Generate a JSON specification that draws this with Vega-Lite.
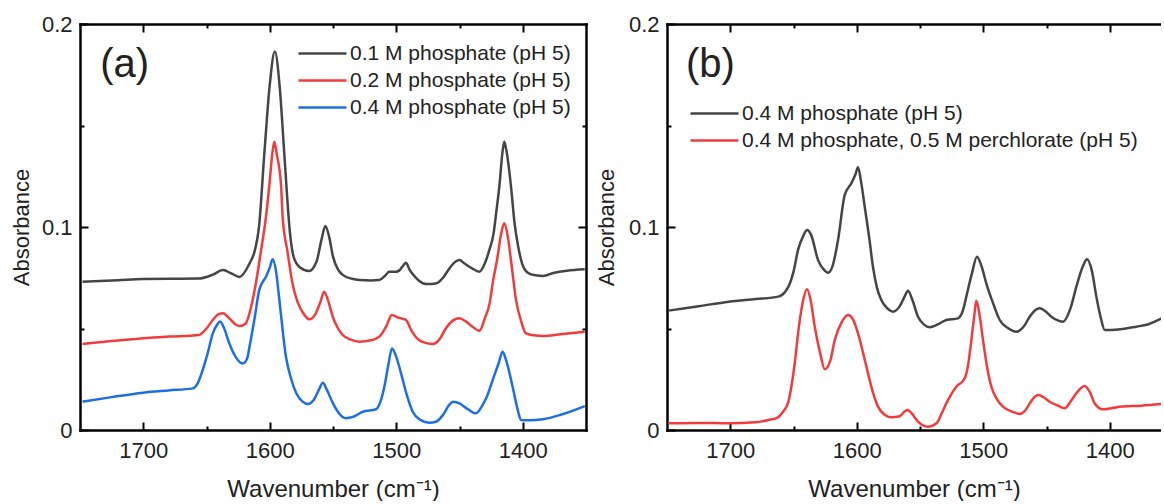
{
  "$schema": "https://vega.github.io/schema/vega-lite/v6.json",
  "padding": {"left": 10, "top": 13, "right": 0, "bottom": 0},
  "background": "white",
  "config": {
    "font": "Liberation Sans",
    "view": {"stroke": null},
    "axis": {"grid": false, "domainColor": "#000000", "domainWidth": 2.5, "domainCap": "square", "tickColor": "#000000", "tickWidth": 2, "labelFont": "Liberation Sans", "labelFontSize": 22, "labelColor": "#222222", "titleFont": "Liberation Sans", "titleFontWeight": "normal", "titleColor": "#222222", "labelFlush": false, "labelOverlap": false},
    "legend": {"labelFont": "Liberation Sans", "labelFontSize": 21, "labelColor": "#222222", "padding": 0, "labelLimit": 600}
  },
  "datasets": {
    "a": [
      {"s": "0.1 M phosphate (pH 5)", "wn": 1748, "A": 0.073},
      {"s": "0.1 M phosphate (pH 5)", "wn": 1720, "A": 0.0738},
      {"s": "0.1 M phosphate (pH 5)", "wn": 1700, "A": 0.0744},
      {"s": "0.1 M phosphate (pH 5)", "wn": 1680, "A": 0.0745},
      {"s": "0.1 M phosphate (pH 5)", "wn": 1656, "A": 0.0746},
      {"s": "0.1 M phosphate (pH 5)", "wn": 1645, "A": 0.0765},
      {"s": "0.1 M phosphate (pH 5)", "wn": 1637, "A": 0.0788},
      {"s": "0.1 M phosphate (pH 5)", "wn": 1630, "A": 0.077},
      {"s": "0.1 M phosphate (pH 5)", "wn": 1624, "A": 0.0754},
      {"s": "0.1 M phosphate (pH 5)", "wn": 1616, "A": 0.082},
      {"s": "0.1 M phosphate (pH 5)", "wn": 1612, "A": 0.088},
      {"s": "0.1 M phosphate (pH 5)", "wn": 1608.5, "A": 0.1},
      {"s": "0.1 M phosphate (pH 5)", "wn": 1604.3, "A": 0.136},
      {"s": "0.1 M phosphate (pH 5)", "wn": 1600, "A": 0.17},
      {"s": "0.1 M phosphate (pH 5)", "wn": 1596, "A": 0.1864},
      {"s": "0.1 M phosphate (pH 5)", "wn": 1592, "A": 0.168},
      {"s": "0.1 M phosphate (pH 5)", "wn": 1588.5, "A": 0.136},
      {"s": "0.1 M phosphate (pH 5)", "wn": 1584, "A": 0.097},
      {"s": "0.1 M phosphate (pH 5)", "wn": 1581, "A": 0.085},
      {"s": "0.1 M phosphate (pH 5)", "wn": 1576, "A": 0.08},
      {"s": "0.1 M phosphate (pH 5)", "wn": 1569, "A": 0.0783},
      {"s": "0.1 M phosphate (pH 5)", "wn": 1563, "A": 0.083},
      {"s": "0.1 M phosphate (pH 5)", "wn": 1559, "A": 0.094},
      {"s": "0.1 M phosphate (pH 5)", "wn": 1556, "A": 0.1005},
      {"s": "0.1 M phosphate (pH 5)", "wn": 1553, "A": 0.095},
      {"s": "0.1 M phosphate (pH 5)", "wn": 1550, "A": 0.0854},
      {"s": "0.1 M phosphate (pH 5)", "wn": 1546, "A": 0.079},
      {"s": "0.1 M phosphate (pH 5)", "wn": 1542, "A": 0.0763},
      {"s": "0.1 M phosphate (pH 5)", "wn": 1535, "A": 0.0745},
      {"s": "0.1 M phosphate (pH 5)", "wn": 1529, "A": 0.0739},
      {"s": "0.1 M phosphate (pH 5)", "wn": 1520, "A": 0.0737},
      {"s": "0.1 M phosphate (pH 5)", "wn": 1513.6, "A": 0.0739},
      {"s": "0.1 M phosphate (pH 5)", "wn": 1508, "A": 0.0765},
      {"s": "0.1 M phosphate (pH 5)", "wn": 1505.7, "A": 0.078},
      {"s": "0.1 M phosphate (pH 5)", "wn": 1500, "A": 0.078},
      {"s": "0.1 M phosphate (pH 5)", "wn": 1497.8, "A": 0.0785},
      {"s": "0.1 M phosphate (pH 5)", "wn": 1494.5, "A": 0.081},
      {"s": "0.1 M phosphate (pH 5)", "wn": 1492.3, "A": 0.0824},
      {"s": "0.1 M phosphate (pH 5)", "wn": 1489.5, "A": 0.079},
      {"s": "0.1 M phosphate (pH 5)", "wn": 1487, "A": 0.0768},
      {"s": "0.1 M phosphate (pH 5)", "wn": 1482, "A": 0.0735},
      {"s": "0.1 M phosphate (pH 5)", "wn": 1476.5, "A": 0.0719},
      {"s": "0.1 M phosphate (pH 5)", "wn": 1468.6, "A": 0.0722},
      {"s": "0.1 M phosphate (pH 5)", "wn": 1463, "A": 0.075},
      {"s": "0.1 M phosphate (pH 5)", "wn": 1458, "A": 0.0796},
      {"s": "0.1 M phosphate (pH 5)", "wn": 1453, "A": 0.083},
      {"s": "0.1 M phosphate (pH 5)", "wn": 1450, "A": 0.0837},
      {"s": "0.1 M phosphate (pH 5)", "wn": 1446, "A": 0.082},
      {"s": "0.1 M phosphate (pH 5)", "wn": 1440, "A": 0.0796},
      {"s": "0.1 M phosphate (pH 5)", "wn": 1434.3, "A": 0.078},
      {"s": "0.1 M phosphate (pH 5)", "wn": 1430, "A": 0.082},
      {"s": "0.1 M phosphate (pH 5)", "wn": 1426.4, "A": 0.0887},
      {"s": "0.1 M phosphate (pH 5)", "wn": 1423, "A": 0.097},
      {"s": "0.1 M phosphate (pH 5)", "wn": 1421, "A": 0.107},
      {"s": "0.1 M phosphate (pH 5)", "wn": 1418.5, "A": 0.12},
      {"s": "0.1 M phosphate (pH 5)", "wn": 1416, "A": 0.137},
      {"s": "0.1 M phosphate (pH 5)", "wn": 1414.6, "A": 0.142},
      {"s": "0.1 M phosphate (pH 5)", "wn": 1413, "A": 0.138},
      {"s": "0.1 M phosphate (pH 5)", "wn": 1409.3, "A": 0.12},
      {"s": "0.1 M phosphate (pH 5)", "wn": 1406.5, "A": 0.102},
      {"s": "0.1 M phosphate (pH 5)", "wn": 1403.5, "A": 0.09},
      {"s": "0.1 M phosphate (pH 5)", "wn": 1400.5, "A": 0.082},
      {"s": "0.1 M phosphate (pH 5)", "wn": 1396, "A": 0.0775},
      {"s": "0.1 M phosphate (pH 5)", "wn": 1390, "A": 0.0762},
      {"s": "0.1 M phosphate (pH 5)", "wn": 1384, "A": 0.0759},
      {"s": "0.1 M phosphate (pH 5)", "wn": 1375, "A": 0.0775},
      {"s": "0.1 M phosphate (pH 5)", "wn": 1365, "A": 0.0785},
      {"s": "0.1 M phosphate (pH 5)", "wn": 1351, "A": 0.0792},

      {"s": "0.2 M phosphate (pH 5)", "wn": 1748, "A": 0.0424},
      {"s": "0.2 M phosphate (pH 5)", "wn": 1725, "A": 0.0438},
      {"s": "0.2 M phosphate (pH 5)", "wn": 1700, "A": 0.0452},
      {"s": "0.2 M phosphate (pH 5)", "wn": 1680, "A": 0.046},
      {"s": "0.2 M phosphate (pH 5)", "wn": 1656, "A": 0.0468},
      {"s": "0.2 M phosphate (pH 5)", "wn": 1650, "A": 0.05},
      {"s": "0.2 M phosphate (pH 5)", "wn": 1645, "A": 0.0542},
      {"s": "0.2 M phosphate (pH 5)", "wn": 1640, "A": 0.0572},
      {"s": "0.2 M phosphate (pH 5)", "wn": 1637, "A": 0.0575},
      {"s": "0.2 M phosphate (pH 5)", "wn": 1632, "A": 0.055},
      {"s": "0.2 M phosphate (pH 5)", "wn": 1627, "A": 0.052},
      {"s": "0.2 M phosphate (pH 5)", "wn": 1624, "A": 0.0512},
      {"s": "0.2 M phosphate (pH 5)", "wn": 1619, "A": 0.0525},
      {"s": "0.2 M phosphate (pH 5)", "wn": 1615, "A": 0.06},
      {"s": "0.2 M phosphate (pH 5)", "wn": 1611, "A": 0.0722},
      {"s": "0.2 M phosphate (pH 5)", "wn": 1607, "A": 0.088},
      {"s": "0.2 M phosphate (pH 5)", "wn": 1603, "A": 0.105},
      {"s": "0.2 M phosphate (pH 5)", "wn": 1600.4, "A": 0.12},
      {"s": "0.2 M phosphate (pH 5)", "wn": 1598, "A": 0.136},
      {"s": "0.2 M phosphate (pH 5)", "wn": 1596.4, "A": 0.142},
      {"s": "0.2 M phosphate (pH 5)", "wn": 1594.5, "A": 0.136},
      {"s": "0.2 M phosphate (pH 5)", "wn": 1591, "A": 0.12},
      {"s": "0.2 M phosphate (pH 5)", "wn": 1589.8, "A": 0.105},
      {"s": "0.2 M phosphate (pH 5)", "wn": 1586, "A": 0.088},
      {"s": "0.2 M phosphate (pH 5)", "wn": 1582, "A": 0.0722},
      {"s": "0.2 M phosphate (pH 5)", "wn": 1578, "A": 0.063},
      {"s": "0.2 M phosphate (pH 5)", "wn": 1574, "A": 0.058},
      {"s": "0.2 M phosphate (pH 5)", "wn": 1568.7, "A": 0.0545},
      {"s": "0.2 M phosphate (pH 5)", "wn": 1564, "A": 0.057},
      {"s": "0.2 M phosphate (pH 5)", "wn": 1560, "A": 0.063},
      {"s": "0.2 M phosphate (pH 5)", "wn": 1557, "A": 0.0681},
      {"s": "0.2 M phosphate (pH 5)", "wn": 1554, "A": 0.064},
      {"s": "0.2 M phosphate (pH 5)", "wn": 1550.2, "A": 0.0558},
      {"s": "0.2 M phosphate (pH 5)", "wn": 1546, "A": 0.05},
      {"s": "0.2 M phosphate (pH 5)", "wn": 1542.3, "A": 0.0468},
      {"s": "0.2 M phosphate (pH 5)", "wn": 1536, "A": 0.0445},
      {"s": "0.2 M phosphate (pH 5)", "wn": 1529, "A": 0.0435},
      {"s": "0.2 M phosphate (pH 5)", "wn": 1520, "A": 0.0442},
      {"s": "0.2 M phosphate (pH 5)", "wn": 1513.4, "A": 0.046},
      {"s": "0.2 M phosphate (pH 5)", "wn": 1508, "A": 0.051},
      {"s": "0.2 M phosphate (pH 5)", "wn": 1503.4, "A": 0.0567},
      {"s": "0.2 M phosphate (pH 5)", "wn": 1499, "A": 0.0555},
      {"s": "0.2 M phosphate (pH 5)", "wn": 1495, "A": 0.0548},
      {"s": "0.2 M phosphate (pH 5)", "wn": 1492.3, "A": 0.0542},
      {"s": "0.2 M phosphate (pH 5)", "wn": 1488, "A": 0.049},
      {"s": "0.2 M phosphate (pH 5)", "wn": 1482, "A": 0.0443},
      {"s": "0.2 M phosphate (pH 5)", "wn": 1476, "A": 0.0428},
      {"s": "0.2 M phosphate (pH 5)", "wn": 1471, "A": 0.0424},
      {"s": "0.2 M phosphate (pH 5)", "wn": 1466, "A": 0.0445},
      {"s": "0.2 M phosphate (pH 5)", "wn": 1460.7, "A": 0.0501},
      {"s": "0.2 M phosphate (pH 5)", "wn": 1455, "A": 0.054},
      {"s": "0.2 M phosphate (pH 5)", "wn": 1450, "A": 0.055},
      {"s": "0.2 M phosphate (pH 5)", "wn": 1445, "A": 0.0535},
      {"s": "0.2 M phosphate (pH 5)", "wn": 1440, "A": 0.051},
      {"s": "0.2 M phosphate (pH 5)", "wn": 1434.3, "A": 0.0489},
      {"s": "0.2 M phosphate (pH 5)", "wn": 1430, "A": 0.055},
      {"s": "0.2 M phosphate (pH 5)", "wn": 1426, "A": 0.063},
      {"s": "0.2 M phosphate (pH 5)", "wn": 1423.8, "A": 0.0722},
      {"s": "0.2 M phosphate (pH 5)", "wn": 1420, "A": 0.085},
      {"s": "0.2 M phosphate (pH 5)", "wn": 1417, "A": 0.097},
      {"s": "0.2 M phosphate (pH 5)", "wn": 1414.6, "A": 0.1018},
      {"s": "0.2 M phosphate (pH 5)", "wn": 1412, "A": 0.096},
      {"s": "0.2 M phosphate (pH 5)", "wn": 1409, "A": 0.082},
      {"s": "0.2 M phosphate (pH 5)", "wn": 1405.3, "A": 0.064},
      {"s": "0.2 M phosphate (pH 5)", "wn": 1401, "A": 0.053},
      {"s": "0.2 M phosphate (pH 5)", "wn": 1397.4, "A": 0.0476},
      {"s": "0.2 M phosphate (pH 5)", "wn": 1390, "A": 0.0465},
      {"s": "0.2 M phosphate (pH 5)", "wn": 1384, "A": 0.0463},
      {"s": "0.2 M phosphate (pH 5)", "wn": 1370, "A": 0.0472},
      {"s": "0.2 M phosphate (pH 5)", "wn": 1351, "A": 0.0484},

      {"s": "0.4 M phosphate (pH 5)", "wn": 1748, "A": 0.0139},
      {"s": "0.4 M phosphate (pH 5)", "wn": 1725, "A": 0.0162},
      {"s": "0.4 M phosphate (pH 5)", "wn": 1700, "A": 0.0184},
      {"s": "0.4 M phosphate (pH 5)", "wn": 1680, "A": 0.0195},
      {"s": "0.4 M phosphate (pH 5)", "wn": 1661, "A": 0.0205},
      {"s": "0.4 M phosphate (pH 5)", "wn": 1657, "A": 0.023},
      {"s": "0.4 M phosphate (pH 5)", "wn": 1653, "A": 0.0296},
      {"s": "0.4 M phosphate (pH 5)", "wn": 1649, "A": 0.038},
      {"s": "0.4 M phosphate (pH 5)", "wn": 1645, "A": 0.0476},
      {"s": "0.4 M phosphate (pH 5)", "wn": 1641.5, "A": 0.052},
      {"s": "0.4 M phosphate (pH 5)", "wn": 1639.3, "A": 0.0534},
      {"s": "0.4 M phosphate (pH 5)", "wn": 1636, "A": 0.05},
      {"s": "0.4 M phosphate (pH 5)", "wn": 1632, "A": 0.0427},
      {"s": "0.4 M phosphate (pH 5)", "wn": 1627, "A": 0.036},
      {"s": "0.4 M phosphate (pH 5)", "wn": 1621.4, "A": 0.0328},
      {"s": "0.4 M phosphate (pH 5)", "wn": 1618, "A": 0.035},
      {"s": "0.4 M phosphate (pH 5)", "wn": 1616, "A": 0.041},
      {"s": "0.4 M phosphate (pH 5)", "wn": 1612, "A": 0.055},
      {"s": "0.4 M phosphate (pH 5)", "wn": 1608.3, "A": 0.069},
      {"s": "0.4 M phosphate (pH 5)", "wn": 1603, "A": 0.0755},
      {"s": "0.4 M phosphate (pH 5)", "wn": 1600, "A": 0.08},
      {"s": "0.4 M phosphate (pH 5)", "wn": 1597.7, "A": 0.0841},
      {"s": "0.4 M phosphate (pH 5)", "wn": 1595, "A": 0.078},
      {"s": "0.4 M phosphate (pH 5)", "wn": 1592.4, "A": 0.064},
      {"s": "0.4 M phosphate (pH 5)", "wn": 1587.2, "A": 0.0361},
      {"s": "0.4 M phosphate (pH 5)", "wn": 1583, "A": 0.025},
      {"s": "0.4 M phosphate (pH 5)", "wn": 1579, "A": 0.0181},
      {"s": "0.4 M phosphate (pH 5)", "wn": 1574, "A": 0.014},
      {"s": "0.4 M phosphate (pH 5)", "wn": 1570, "A": 0.0128},
      {"s": "0.4 M phosphate (pH 5)", "wn": 1565, "A": 0.015},
      {"s": "0.4 M phosphate (pH 5)", "wn": 1561, "A": 0.02},
      {"s": "0.4 M phosphate (pH 5)", "wn": 1558, "A": 0.0233},
      {"s": "0.4 M phosphate (pH 5)", "wn": 1555, "A": 0.02},
      {"s": "0.4 M phosphate (pH 5)", "wn": 1550, "A": 0.0131},
      {"s": "0.4 M phosphate (pH 5)", "wn": 1545, "A": 0.008},
      {"s": "0.4 M phosphate (pH 5)", "wn": 1540, "A": 0.0058},
      {"s": "0.4 M phosphate (pH 5)", "wn": 1534, "A": 0.0065},
      {"s": "0.4 M phosphate (pH 5)", "wn": 1526.5, "A": 0.009},
      {"s": "0.4 M phosphate (pH 5)", "wn": 1516, "A": 0.0102},
      {"s": "0.4 M phosphate (pH 5)", "wn": 1512.5, "A": 0.014},
      {"s": "0.4 M phosphate (pH 5)", "wn": 1509.4, "A": 0.0213},
      {"s": "0.4 M phosphate (pH 5)", "wn": 1506, "A": 0.033},
      {"s": "0.4 M phosphate (pH 5)", "wn": 1503.4, "A": 0.0402},
      {"s": "0.4 M phosphate (pH 5)", "wn": 1500, "A": 0.036},
      {"s": "0.4 M phosphate (pH 5)", "wn": 1496.2, "A": 0.0279},
      {"s": "0.4 M phosphate (pH 5)", "wn": 1492, "A": 0.018},
      {"s": "0.4 M phosphate (pH 5)", "wn": 1487, "A": 0.009},
      {"s": "0.4 M phosphate (pH 5)", "wn": 1481, "A": 0.005},
      {"s": "0.4 M phosphate (pH 5)", "wn": 1474, "A": 0.0036},
      {"s": "0.4 M phosphate (pH 5)", "wn": 1468.6, "A": 0.0041},
      {"s": "0.4 M phosphate (pH 5)", "wn": 1463, "A": 0.0075},
      {"s": "0.4 M phosphate (pH 5)", "wn": 1458, "A": 0.0125},
      {"s": "0.4 M phosphate (pH 5)", "wn": 1455, "A": 0.0139},
      {"s": "0.4 M phosphate (pH 5)", "wn": 1450, "A": 0.0131},
      {"s": "0.4 M phosphate (pH 5)", "wn": 1444, "A": 0.0105},
      {"s": "0.4 M phosphate (pH 5)", "wn": 1437, "A": 0.0082},
      {"s": "0.4 M phosphate (pH 5)", "wn": 1432, "A": 0.012},
      {"s": "0.4 M phosphate (pH 5)", "wn": 1428, "A": 0.017},
      {"s": "0.4 M phosphate (pH 5)", "wn": 1423.8, "A": 0.0246},
      {"s": "0.4 M phosphate (pH 5)", "wn": 1419, "A": 0.033},
      {"s": "0.4 M phosphate (pH 5)", "wn": 1416, "A": 0.0386},
      {"s": "0.4 M phosphate (pH 5)", "wn": 1413, "A": 0.034},
      {"s": "0.4 M phosphate (pH 5)", "wn": 1408, "A": 0.0213},
      {"s": "0.4 M phosphate (pH 5)", "wn": 1404, "A": 0.01},
      {"s": "0.4 M phosphate (pH 5)", "wn": 1401.4, "A": 0.0049},
      {"s": "0.4 M phosphate (pH 5)", "wn": 1395, "A": 0.0048},
      {"s": "0.4 M phosphate (pH 5)", "wn": 1384, "A": 0.0053},
      {"s": "0.4 M phosphate (pH 5)", "wn": 1370, "A": 0.0075},
      {"s": "0.4 M phosphate (pH 5)", "wn": 1351, "A": 0.0118}
    ],
    "b": [
      {"s": "0.4 M phosphate (pH 5)", "wn": 1749, "A": 0.0588},
      {"s": "0.4 M phosphate (pH 5)", "wn": 1725, "A": 0.061},
      {"s": "0.4 M phosphate (pH 5)", "wn": 1701, "A": 0.0632},
      {"s": "0.4 M phosphate (pH 5)", "wn": 1680, "A": 0.0645},
      {"s": "0.4 M phosphate (pH 5)", "wn": 1662, "A": 0.0657},
      {"s": "0.4 M phosphate (pH 5)", "wn": 1654, "A": 0.0706},
      {"s": "0.4 M phosphate (pH 5)", "wn": 1650, "A": 0.078},
      {"s": "0.4 M phosphate (pH 5)", "wn": 1646.4, "A": 0.0887},
      {"s": "0.4 M phosphate (pH 5)", "wn": 1642, "A": 0.096},
      {"s": "0.4 M phosphate (pH 5)", "wn": 1639.3, "A": 0.0985},
      {"s": "0.4 M phosphate (pH 5)", "wn": 1636, "A": 0.096},
      {"s": "0.4 M phosphate (pH 5)", "wn": 1630.6, "A": 0.0837},
      {"s": "0.4 M phosphate (pH 5)", "wn": 1626, "A": 0.079},
      {"s": "0.4 M phosphate (pH 5)", "wn": 1622.7, "A": 0.0775},
      {"s": "0.4 M phosphate (pH 5)", "wn": 1619, "A": 0.081},
      {"s": "0.4 M phosphate (pH 5)", "wn": 1614.8, "A": 0.0936},
      {"s": "0.4 M phosphate (pH 5)", "wn": 1609.5, "A": 0.1158},
      {"s": "0.4 M phosphate (pH 5)", "wn": 1604.3, "A": 0.1215},
      {"s": "0.4 M phosphate (pH 5)", "wn": 1601, "A": 0.126},
      {"s": "0.4 M phosphate (pH 5)", "wn": 1599, "A": 0.1294},
      {"s": "0.4 M phosphate (pH 5)", "wn": 1596.5, "A": 0.122},
      {"s": "0.4 M phosphate (pH 5)", "wn": 1593.7, "A": 0.11},
      {"s": "0.4 M phosphate (pH 5)", "wn": 1590, "A": 0.094},
      {"s": "0.4 M phosphate (pH 5)", "wn": 1587.2, "A": 0.0804},
      {"s": "0.4 M phosphate (pH 5)", "wn": 1584, "A": 0.07},
      {"s": "0.4 M phosphate (pH 5)", "wn": 1580.6, "A": 0.064},
      {"s": "0.4 M phosphate (pH 5)", "wn": 1576, "A": 0.06},
      {"s": "0.4 M phosphate (pH 5)", "wn": 1571.3, "A": 0.0583},
      {"s": "0.4 M phosphate (pH 5)", "wn": 1566, "A": 0.061},
      {"s": "0.4 M phosphate (pH 5)", "wn": 1562, "A": 0.066},
      {"s": "0.4 M phosphate (pH 5)", "wn": 1559.5, "A": 0.0686},
      {"s": "0.4 M phosphate (pH 5)", "wn": 1556, "A": 0.064},
      {"s": "0.4 M phosphate (pH 5)", "wn": 1551.6, "A": 0.0558},
      {"s": "0.4 M phosphate (pH 5)", "wn": 1547, "A": 0.052},
      {"s": "0.4 M phosphate (pH 5)", "wn": 1542.3, "A": 0.0506},
      {"s": "0.4 M phosphate (pH 5)", "wn": 1536, "A": 0.052},
      {"s": "0.4 M phosphate (pH 5)", "wn": 1529.2, "A": 0.0542},
      {"s": "0.4 M phosphate (pH 5)", "wn": 1520, "A": 0.055},
      {"s": "0.4 M phosphate (pH 5)", "wn": 1516, "A": 0.059},
      {"s": "0.4 M phosphate (pH 5)", "wn": 1513.4, "A": 0.0657},
      {"s": "0.4 M phosphate (pH 5)", "wn": 1509, "A": 0.077},
      {"s": "0.4 M phosphate (pH 5)", "wn": 1505, "A": 0.0854},
      {"s": "0.4 M phosphate (pH 5)", "wn": 1501, "A": 0.08},
      {"s": "0.4 M phosphate (pH 5)", "wn": 1497.6, "A": 0.0722},
      {"s": "0.4 M phosphate (pH 5)", "wn": 1492, "A": 0.062},
      {"s": "0.4 M phosphate (pH 5)", "wn": 1487, "A": 0.0542},
      {"s": "0.4 M phosphate (pH 5)", "wn": 1480, "A": 0.05},
      {"s": "0.4 M phosphate (pH 5)", "wn": 1473.9, "A": 0.0484},
      {"s": "0.4 M phosphate (pH 5)", "wn": 1468, "A": 0.051},
      {"s": "0.4 M phosphate (pH 5)", "wn": 1463.3, "A": 0.0558},
      {"s": "0.4 M phosphate (pH 5)", "wn": 1459, "A": 0.059},
      {"s": "0.4 M phosphate (pH 5)", "wn": 1455.4, "A": 0.06},
      {"s": "0.4 M phosphate (pH 5)", "wn": 1450, "A": 0.058},
      {"s": "0.4 M phosphate (pH 5)", "wn": 1446.2, "A": 0.0558},
      {"s": "0.4 M phosphate (pH 5)", "wn": 1441, "A": 0.054},
      {"s": "0.4 M phosphate (pH 5)", "wn": 1437, "A": 0.0533},
      {"s": "0.4 M phosphate (pH 5)", "wn": 1431, "A": 0.06},
      {"s": "0.4 M phosphate (pH 5)", "wn": 1426.4, "A": 0.0706},
      {"s": "0.4 M phosphate (pH 5)", "wn": 1421, "A": 0.081},
      {"s": "0.4 M phosphate (pH 5)", "wn": 1418, "A": 0.0841},
      {"s": "0.4 M phosphate (pH 5)", "wn": 1414, "A": 0.078},
      {"s": "0.4 M phosphate (pH 5)", "wn": 1410.6, "A": 0.0657},
      {"s": "0.4 M phosphate (pH 5)", "wn": 1407, "A": 0.055},
      {"s": "0.4 M phosphate (pH 5)", "wn": 1404, "A": 0.0493},
      {"s": "0.4 M phosphate (pH 5)", "wn": 1398, "A": 0.0493},
      {"s": "0.4 M phosphate (pH 5)", "wn": 1392, "A": 0.0496},
      {"s": "0.4 M phosphate (pH 5)", "wn": 1379, "A": 0.0509},
      {"s": "0.4 M phosphate (pH 5)", "wn": 1370, "A": 0.052},
      {"s": "0.4 M phosphate (pH 5)", "wn": 1359, "A": 0.055},

      {"s": "0.4 M phosphate, 0.5 M perchlorate (pH 5)", "wn": 1749, "A": 0.0033},
      {"s": "0.4 M phosphate, 0.5 M perchlorate (pH 5)", "wn": 1725, "A": 0.0035},
      {"s": "0.4 M phosphate, 0.5 M perchlorate (pH 5)", "wn": 1701, "A": 0.0033},
      {"s": "0.4 M phosphate, 0.5 M perchlorate (pH 5)", "wn": 1680, "A": 0.0038},
      {"s": "0.4 M phosphate, 0.5 M perchlorate (pH 5)", "wn": 1670, "A": 0.0049},
      {"s": "0.4 M phosphate, 0.5 M perchlorate (pH 5)", "wn": 1663, "A": 0.006},
      {"s": "0.4 M phosphate, 0.5 M perchlorate (pH 5)", "wn": 1658.3, "A": 0.009},
      {"s": "0.4 M phosphate, 0.5 M perchlorate (pH 5)", "wn": 1654, "A": 0.014},
      {"s": "0.4 M phosphate, 0.5 M perchlorate (pH 5)", "wn": 1651.7, "A": 0.0213},
      {"s": "0.4 M phosphate, 0.5 M perchlorate (pH 5)", "wn": 1649, "A": 0.033},
      {"s": "0.4 M phosphate, 0.5 M perchlorate (pH 5)", "wn": 1646.4, "A": 0.0476},
      {"s": "0.4 M phosphate, 0.5 M perchlorate (pH 5)", "wn": 1643, "A": 0.062},
      {"s": "0.4 M phosphate, 0.5 M perchlorate (pH 5)", "wn": 1639.3, "A": 0.0693},
      {"s": "0.4 M phosphate, 0.5 M perchlorate (pH 5)", "wn": 1636.5, "A": 0.064},
      {"s": "0.4 M phosphate, 0.5 M perchlorate (pH 5)", "wn": 1633.2, "A": 0.0509},
      {"s": "0.4 M phosphate, 0.5 M perchlorate (pH 5)", "wn": 1629, "A": 0.038},
      {"s": "0.4 M phosphate, 0.5 M perchlorate (pH 5)", "wn": 1625.3, "A": 0.0299},
      {"s": "0.4 M phosphate, 0.5 M perchlorate (pH 5)", "wn": 1621, "A": 0.034},
      {"s": "0.4 M phosphate, 0.5 M perchlorate (pH 5)", "wn": 1617.4, "A": 0.0443},
      {"s": "0.4 M phosphate, 0.5 M perchlorate (pH 5)", "wn": 1612, "A": 0.053},
      {"s": "0.4 M phosphate, 0.5 M perchlorate (pH 5)", "wn": 1606.9, "A": 0.0567},
      {"s": "0.4 M phosphate, 0.5 M perchlorate (pH 5)", "wn": 1603, "A": 0.0545},
      {"s": "0.4 M phosphate, 0.5 M perchlorate (pH 5)", "wn": 1599, "A": 0.0476},
      {"s": "0.4 M phosphate, 0.5 M perchlorate (pH 5)", "wn": 1595, "A": 0.038},
      {"s": "0.4 M phosphate, 0.5 M perchlorate (pH 5)", "wn": 1591.1, "A": 0.0279},
      {"s": "0.4 M phosphate, 0.5 M perchlorate (pH 5)", "wn": 1587, "A": 0.018},
      {"s": "0.4 M phosphate, 0.5 M perchlorate (pH 5)", "wn": 1583.2, "A": 0.0115},
      {"s": "0.4 M phosphate, 0.5 M perchlorate (pH 5)", "wn": 1578, "A": 0.0075},
      {"s": "0.4 M phosphate, 0.5 M perchlorate (pH 5)", "wn": 1572.7, "A": 0.0063},
      {"s": "0.4 M phosphate, 0.5 M perchlorate (pH 5)", "wn": 1566, "A": 0.0068},
      {"s": "0.4 M phosphate, 0.5 M perchlorate (pH 5)", "wn": 1562, "A": 0.0092},
      {"s": "0.4 M phosphate, 0.5 M perchlorate (pH 5)", "wn": 1560, "A": 0.0099},
      {"s": "0.4 M phosphate, 0.5 M perchlorate (pH 5)", "wn": 1557, "A": 0.0085},
      {"s": "0.4 M phosphate, 0.5 M perchlorate (pH 5)", "wn": 1551.6, "A": 0.0041},
      {"s": "0.4 M phosphate, 0.5 M perchlorate (pH 5)", "wn": 1543.7, "A": 0.0016},
      {"s": "0.4 M phosphate, 0.5 M perchlorate (pH 5)", "wn": 1537, "A": 0.0033},
      {"s": "0.4 M phosphate, 0.5 M perchlorate (pH 5)", "wn": 1533, "A": 0.008},
      {"s": "0.4 M phosphate, 0.5 M perchlorate (pH 5)", "wn": 1529.2, "A": 0.0131},
      {"s": "0.4 M phosphate, 0.5 M perchlorate (pH 5)", "wn": 1521.3, "A": 0.0213},
      {"s": "0.4 M phosphate, 0.5 M perchlorate (pH 5)", "wn": 1514.7, "A": 0.0254},
      {"s": "0.4 M phosphate, 0.5 M perchlorate (pH 5)", "wn": 1512, "A": 0.032},
      {"s": "0.4 M phosphate, 0.5 M perchlorate (pH 5)", "wn": 1509.4, "A": 0.0443},
      {"s": "0.4 M phosphate, 0.5 M perchlorate (pH 5)", "wn": 1507, "A": 0.057},
      {"s": "0.4 M phosphate, 0.5 M perchlorate (pH 5)", "wn": 1505.5, "A": 0.0637},
      {"s": "0.4 M phosphate, 0.5 M perchlorate (pH 5)", "wn": 1503, "A": 0.057},
      {"s": "0.4 M phosphate, 0.5 M perchlorate (pH 5)", "wn": 1500.2, "A": 0.0443},
      {"s": "0.4 M phosphate, 0.5 M perchlorate (pH 5)", "wn": 1497, "A": 0.031},
      {"s": "0.4 M phosphate, 0.5 M perchlorate (pH 5)", "wn": 1493.6, "A": 0.0213},
      {"s": "0.4 M phosphate, 0.5 M perchlorate (pH 5)", "wn": 1489, "A": 0.015},
      {"s": "0.4 M phosphate, 0.5 M perchlorate (pH 5)", "wn": 1484.4, "A": 0.0115},
      {"s": "0.4 M phosphate, 0.5 M perchlorate (pH 5)", "wn": 1477, "A": 0.009},
      {"s": "0.4 M phosphate, 0.5 M perchlorate (pH 5)", "wn": 1471.2, "A": 0.0079},
      {"s": "0.4 M phosphate, 0.5 M perchlorate (pH 5)", "wn": 1467, "A": 0.0095},
      {"s": "0.4 M phosphate, 0.5 M perchlorate (pH 5)", "wn": 1463.3, "A": 0.0131},
      {"s": "0.4 M phosphate, 0.5 M perchlorate (pH 5)", "wn": 1459, "A": 0.0165},
      {"s": "0.4 M phosphate, 0.5 M perchlorate (pH 5)", "wn": 1456.7, "A": 0.0172},
      {"s": "0.4 M phosphate, 0.5 M perchlorate (pH 5)", "wn": 1452, "A": 0.016},
      {"s": "0.4 M phosphate, 0.5 M perchlorate (pH 5)", "wn": 1447.5, "A": 0.0139},
      {"s": "0.4 M phosphate, 0.5 M perchlorate (pH 5)", "wn": 1441, "A": 0.012},
      {"s": "0.4 M phosphate, 0.5 M perchlorate (pH 5)", "wn": 1435.6, "A": 0.0107},
      {"s": "0.4 M phosphate, 0.5 M perchlorate (pH 5)", "wn": 1431, "A": 0.014},
      {"s": "0.4 M phosphate, 0.5 M perchlorate (pH 5)", "wn": 1426.4, "A": 0.0181},
      {"s": "0.4 M phosphate, 0.5 M perchlorate (pH 5)", "wn": 1419.8, "A": 0.0217},
      {"s": "0.4 M phosphate, 0.5 M perchlorate (pH 5)", "wn": 1416, "A": 0.019},
      {"s": "0.4 M phosphate, 0.5 M perchlorate (pH 5)", "wn": 1411.9, "A": 0.0131},
      {"s": "0.4 M phosphate, 0.5 M perchlorate (pH 5)", "wn": 1405.3, "A": 0.0102},
      {"s": "0.4 M phosphate, 0.5 M perchlorate (pH 5)", "wn": 1398, "A": 0.0108},
      {"s": "0.4 M phosphate, 0.5 M perchlorate (pH 5)", "wn": 1392, "A": 0.0115},
      {"s": "0.4 M phosphate, 0.5 M perchlorate (pH 5)", "wn": 1375, "A": 0.012},
      {"s": "0.4 M phosphate, 0.5 M perchlorate (pH 5)", "wn": 1359, "A": 0.0128}
    ]
  },
  "resolve": {"scale": {"color": "independent"}},
  "spacing": 8,
  "hconcat": [
    {
      "width": 506,
      "height": 406,
      "resolve": {"axis": {"x": "independent", "y": "independent"}},
      "layer": [
        {
          "data": {"name": "a"},
          "mark": {"type": "line", "strokeWidth": 2.5, "clip": true, "interpolate": "monotone"},
          "encoding": {
            "x": {"field": "wn", "type": "quantitative", "scale": {"domain": [1350, 1750], "reverse": true, "nice": false, "zero": false},
                  "axis": {"orient": "bottom", "values": [1700, 1600, 1500, 1400], "format": "d", "tickSize": -8, "labelPadding": 18, "title": "Wavenumber (cm⁻¹)", "titleFontSize": 24, "titlePadding": 16}},
            "y": {"field": "A", "type": "quantitative", "scale": {"domain": [0, 0.2], "nice": false, "zero": false},
                  "axis": {"orient": "left", "values": [0, 0.1, 0.2], "format": "~g", "tickSize": -8, "labelPadding": 16, "title": "Absorbance", "titleFontSize": 22, "titlePadding": 8}},
            "color": {"field": "s", "type": "nominal",
                      "scale": {"domain": ["0.1 M phosphate (pH 5)", "0.2 M phosphate (pH 5)", "0.4 M phosphate (pH 5)"], "range": ["#454545", "#f03c3c", "#1c6fe3"]},
                      "legend": {"orient": "none", "legendX": 229, "legendY": 16, "title": null, "symbolType": "M-2,0H2", "symbolSize": 576, "symbolStrokeWidth": 2.5, "symbolFillColor": "transparent", "labelOffset": 14, "rowPadding": 3}}
          }
        },
        {
          "data": {"values": [{"wn": 1734, "A": 0.18, "label": "(a)"}]},
          "mark": {"type": "text", "align": "left", "baseline": "middle", "fontSize": 40, "color": "#222222", "font": "Liberation Sans"},
          "encoding": {
            "x": {"field": "wn", "type": "quantitative", "axis": {"orient": "bottom", "values": [1650, 1550, 1450], "tickSize": -4, "labels": false, "domain": false, "title": null}},
            "y": {"field": "A", "type": "quantitative", "axis": {"orient": "left", "values": [0.05, 0.15], "tickSize": -4, "labels": false, "domain": false, "title": null}},
            "text": {"field": "label"}
          }
        },
        {
          "data": {"values": [{"wn": 1734, "A": 0.18, "label": "(a)"}]},
          "mark": {"type": "text", "opacity": 0},
          "encoding": {
            "x": {"field": "wn", "type": "quantitative", "axis": {"orient": "top", "values": [1700, 1600, 1500, 1400], "tickSize": -8, "labels": false, "title": null}},
            "y": {"field": "A", "type": "quantitative", "axis": {"orient": "right", "values": [0.1], "tickSize": -8, "labels": false, "title": null}},
            "text": {"field": "label"}
          }
        },
        {
          "data": {"values": [{"wn": 1734, "A": 0.18, "label": "(a)"}]},
          "mark": {"type": "text", "opacity": 0},
          "encoding": {
            "x": {"field": "wn", "type": "quantitative", "axis": {"orient": "top", "values": [1650, 1550, 1450], "tickSize": -4, "labels": false, "domain": false, "title": null}},
            "y": {"field": "A", "type": "quantitative", "axis": {"orient": "right", "values": [0.05, 0.15], "tickSize": -4, "labels": false, "domain": false, "title": null}},
            "text": {"field": "label"}
          }
        }
      ]
    },
    {
      "width": 494,
      "height": 406,
      "resolve": {"axis": {"x": "independent", "y": "independent"}},
      "layer": [
        {
          "data": {"name": "b"},
          "mark": {"type": "line", "strokeWidth": 2.5, "clip": true, "interpolate": "monotone"},
          "encoding": {
            "x": {"field": "wn", "type": "quantitative", "scale": {"domain": [1359.5, 1750], "reverse": true, "nice": false, "zero": false},
                  "axis": {"orient": "bottom", "values": [1700, 1600, 1500, 1400], "format": "d", "tickSize": -8, "labelPadding": 18, "title": "Wavenumber (cm⁻¹)", "titleFontSize": 24, "titlePadding": 16}},
            "y": {"field": "A", "type": "quantitative", "scale": {"domain": [0, 0.2], "nice": false, "zero": false},
                  "axis": {"orient": "left", "values": [0, 0.1, 0.2], "format": "~g", "tickSize": -8, "labelPadding": 16, "title": "Absorbance", "titleFontSize": 22, "titlePadding": 10}},
            "color": {"field": "s", "type": "nominal",
                      "scale": {"domain": ["0.4 M phosphate (pH 5)", "0.4 M phosphate, 0.5 M perchlorate (pH 5)"], "range": ["#454545", "#f03c3c"]},
                      "legend": {"orient": "none", "legendX": 34, "legendY": 76, "title": null, "symbolType": "M-2,0H2", "symbolSize": 576, "symbolStrokeWidth": 2.5, "symbolFillColor": "transparent", "labelOffset": 14, "rowPadding": 3}}
          }
        },
        {
          "data": {"values": [{"wn": 1735, "A": 0.18, "label": "(b)"}]},
          "mark": {"type": "text", "align": "left", "baseline": "middle", "fontSize": 40, "color": "#222222", "font": "Liberation Sans"},
          "encoding": {
            "x": {"field": "wn", "type": "quantitative", "axis": {"orient": "bottom", "values": [1650, 1550, 1450], "tickSize": -4, "labels": false, "domain": false, "title": null}},
            "y": {"field": "A", "type": "quantitative", "axis": {"orient": "left", "values": [0.05, 0.15], "tickSize": -4, "labels": false, "domain": false, "title": null}},
            "text": {"field": "label"}
          }
        },
        {
          "data": {"values": [{"wn": 1735, "A": 0.18, "label": "(b)"}]},
          "mark": {"type": "text", "opacity": 0},
          "encoding": {
            "x": {"field": "wn", "type": "quantitative", "axis": {"orient": "top", "values": [1700, 1600, 1500, 1400], "tickSize": -8, "labels": false, "title": null}},
            "text": {"field": "label"}
          }
        },
        {
          "data": {"values": [{"wn": 1735, "A": 0.18, "label": "(b)"}]},
          "mark": {"type": "text", "opacity": 0},
          "encoding": {
            "x": {"field": "wn", "type": "quantitative", "axis": {"orient": "top", "values": [1650, 1550, 1450], "tickSize": -4, "labels": false, "domain": false, "title": null}},
            "text": {"field": "label"}
          }
        }
      ]
    }
  ]
}
